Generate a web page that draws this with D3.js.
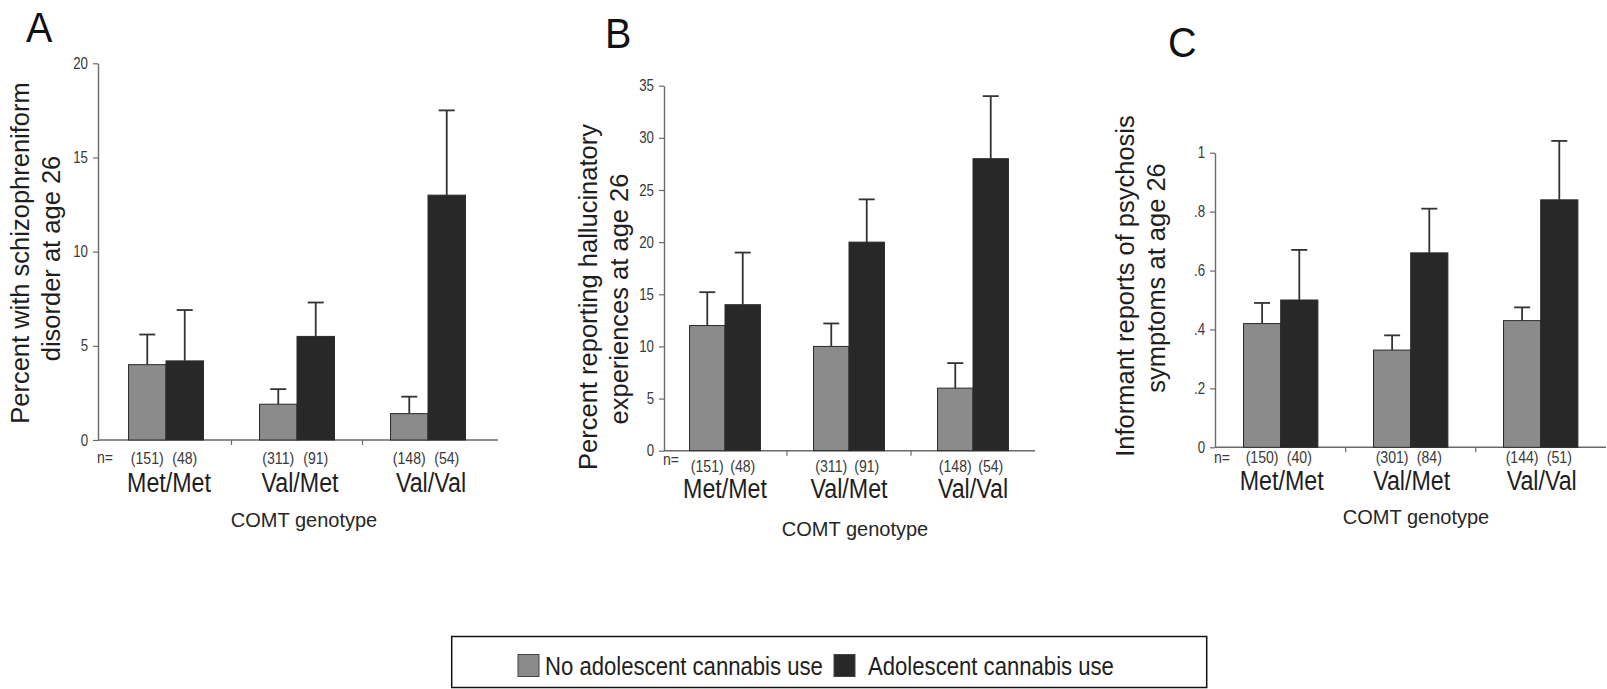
<!DOCTYPE html>
<html>
<head>
<meta charset="utf-8">
<script src="https://cdn.jsdelivr.net/npm/d3@7"></script>
<style>
  html, body { margin: 0; padding: 0; background: #fff; }
  svg { display: block; }
  text { font-family: "Liberation Sans", Arial, Helvetica, sans-serif; }
</style>
</head>
<body>
<svg id="chart" width="1607" height="689"></svg>
<script>
// ---- data ----
const genotypes = ["Met/Met", "Val/Met", "Val/Val"];
const groups = ["No adolescent cannabis use", "Adolescent cannabis use"];

// A: schizophreniform disorder (%)
const schizoNo = [4.0, 1.9, 1.4];
const schizoNoUpper = [5.6, 2.7, 2.3];
const schizoYes = [4.2, 5.5, 13.0];
const schizoYesUpper = [6.9, 7.3, 17.5];
const schizoTicks = [0, 5, 10, 15, 20];
const schizoTickLabels = ["0", "5", "10", "15", "20"];

// B: hallucinatory experiences (%)
const hallucNo = [12, 10, 6];
const hallucNoUpper = [15.2, 12.2, 8.4];
const hallucYes = [14, 20, 28];
const hallucYesUpper = [19.0, 24.1, 34.0];
const hallucTicks = [0, 5, 10, 15, 20, 25, 30, 35];
const hallucTickLabels = ["0", "5", "10", "15", "20", "25", "30", "35"];

// C: informant reports of psychosis symptoms
const informNo = [0.42, 0.33, 0.43];
const informNoUpper = [0.49, 0.38, 0.475];
const informYes = [0.50, 0.66, 0.84];
const informYesUpper = [0.67, 0.81, 1.04];
const informTicks = [0, 0.2, 0.4, 0.6, 0.8, 1];
const informTickLabels = ["0", ".2", ".4", ".6", ".8", "1"];

// sample sizes
const nSelfNo = [151, 311, 148];
const nSelfYes = [48, 91, 54];
const nInformNo = [150, 301, 144];
const nInformYes = [40, 84, 51];

const colors = ["#8b8b8b", "#282828"];

// ---- panel definitions ----
const panels = [
  {
    letter: "A",
    title: ["Percent with schizophreniform", "disorder at age 26"],
    values: [schizoNo, schizoYes], upper: [schizoNoUpper, schizoYesUpper],
    n: [nSelfNo, nSelfYes], max: 20, ticks: schizoTicks, tickLabels: schizoTickLabels,
    L: { axisX: 98, x0: 100.5, x1: 493.5, yBase: 440, yTop: 63.3, axisEnd: 498,
         letterX: 26, letterY: 42, titleX: 28.5, titleY: [253, 258.5],
         nEqY: 23, nY: 23.5, genoY: 51.7, genoDx: 3, comtX: 304, comtY: 86.5 }
  },
  {
    letter: "B",
    title: ["Percent reporting hallucinatory", "experiences at age 26"],
    values: [hallucNo, hallucYes], upper: [hallucNoUpper, hallucYesUpper],
    n: [nSelfNo, nSelfYes], max: 35, ticks: hallucTicks, tickLabels: hallucTickLabels,
    L: { axisX: 664, x0: 663, x1: 1035, yBase: 450.7, yTop: 85.7, axisEnd: 1035,
         letterX: 605, letterY: 48, titleX: 596.5, titleY: [297, 299],
         nEqY: 14, nY: 21, genoY: 47.6, genoDx: 0, comtX: 855, comtY: 85.3 }
  },
  {
    letter: "C",
    title: ["Informant reports of psychosis", "symptoms at age 26"],
    values: [informNo, informYes], upper: [informNoUpper, informYesUpper],
    n: [nInformNo, nInformYes], max: 1, ticks: informTicks, tickLabels: informTickLabels,
    L: { axisX: 1215, x0: 1215.7, x1: 1605.7, yBase: 447.3, yTop: 152.7, axisEnd: 1606,
         letterX: 1168, letterY: 57, titleX: 1133.5, titleY: [286, 278],
         nEqY: 15.3, nY: 15.3, genoY: 42.7, genoDx: 1, comtX: 1416, comtY: 76.7 }
  }
];

const svg = d3.select("#chart");

// text drawn with a horizontal squeeze (condensed look)
function label(g, x, y, str, o) {
  return g.append("text")
    .attr("transform", `translate(${x},${y}) scale(${o.sx || 1},1)`)
    .attr("text-anchor", o.anchor || "middle")
    .style("font-size", o.size + "px")
    .style("fill", o.fill || "#1e1e1e")
    .text(str);
}

panels.forEach(p => {
  const L = p.L;
  const g = svg.append("g");

  const y = d3.scaleLinear().domain([0, p.max]).range([L.yBase, L.yTop]);
  const x0 = d3.scaleBand().domain(genotypes).range([L.x0, L.x1]);
  const bw = x0.bandwidth();
  const pair = bw * 0.572;
  const x1 = d3.scaleBand().domain([0, 1]).range([(bw - pair) / 2, (bw + pair) / 2]);

  // panel letter
  label(g, L.letterX, L.letterY, p.letter, { size: 43, anchor: "start", sx: 0.92, fill: "#111" });

  // y axis title (two rotated lines)
  p.title.forEach((t, i) => {
    g.append("text")
      .attr("transform", `translate(${L.titleX + i * 31},${L.titleY[i]}) rotate(-90)`)
      .attr("text-anchor", "middle")
      .style("font-size", "25.5px")
      .style("fill", "#1e1e1e")
      .text(t);
  });

  // y axis
  const yAxis = g.append("g")
    .attr("transform", `translate(${L.axisX},0)`)
    .call(d3.axisLeft(y).tickValues(p.ticks)
      .tickFormat((d, i) => p.tickLabels[i])
      .tickSize(5).tickPadding(5).tickSizeOuter(0));
  yAxis.select(".domain").attr("stroke", "#6a6a6a").attr("stroke-width", 1.4);
  yAxis.selectAll(".tick line").attr("stroke", "#6a6a6a").attr("stroke-width", 1.2);
  const tsx = 0.83;
  yAxis.selectAll(".tick text")
    .attr("x", -10 / tsx)
    .attr("transform", `scale(${tsx},1)`)
    .style("font-size", "16px")
    .style("fill", "#3a3a3a");

  // x axis baseline and group separators
  g.append("line")
    .attr("x1", L.axisX).attr("x2", L.axisEnd)
    .attr("y1", y(0)).attr("y2", y(0))
    .attr("stroke", "#6a6a6a").attr("stroke-width", 1.4);
  g.selectAll(".sep").data(genotypes.slice(1)).join("line")
    .attr("x1", d => x0(d)).attr("x2", d => x0(d))
    .attr("y1", y(0)).attr("y2", y(0) + 5)
    .attr("stroke", "#6a6a6a").attr("stroke-width", 1.2);

  // bars
  const rows = [];
  genotypes.forEach((gt, gi) => {
    [0, 1].forEach(s => rows.push({ gt, s, v: p.values[s][gi], u: p.upper[s][gi], n: p.n[s][gi] }));
  });
  const cx = d => x0(d.gt) + x1(d.s) + x1.bandwidth() / 2;

  g.selectAll(".bar").data(rows).join("rect")
    .attr("x", d => x0(d.gt) + x1(d.s))
    .attr("width", x1.bandwidth())
    .attr("y", d => y(d.v))
    .attr("height", d => y(0) - y(d.v))
    .attr("fill", d => colors[d.s])
    .attr("stroke", "#2a2a2a").attr("stroke-width", 1);

  // upper error whiskers
  g.selectAll(".err").data(rows).join("line")
    .attr("x1", cx).attr("x2", cx)
    .attr("y1", d => y(d.v)).attr("y2", d => y(d.u))
    .attr("stroke", "#333").attr("stroke-width", 1.8);
  g.selectAll(".cap").data(rows).join("line")
    .attr("x1", d => cx(d) - 8).attr("x2", d => cx(d) + 8)
    .attr("y1", d => y(d.u)).attr("y2", d => y(d.u))
    .attr("stroke", "#333").attr("stroke-width", 1.8);

  // sample sizes
  label(g, L.axisX - 1, y(0) + L.nEqY, "n=", { size: 17, anchor: "start", sx: 0.83, fill: "#3a3a3a" });
  rows.forEach(d => label(g, cx(d), y(0) + L.nY, `(${d.n})`, { size: 17, sx: 0.83, fill: "#3a3a3a" }));

  // genotype labels
  genotypes.forEach(gt =>
    label(g, x0(gt) + bw / 2 + L.genoDx, y(0) + L.genoY, gt, { size: 28, sx: 0.83 }));

  // x axis title
  label(g, L.comtX, y(0) + L.comtY, "COMT genotype", { size: 20, fill: "#262626" });
});

// ---- legend ----
const leg = svg.append("g");
leg.append("rect")
  .attr("x", 451.7).attr("y", 636.5).attr("width", 755).attr("height", 51)
  .attr("fill", "#fff").attr("stroke", "#111").attr("stroke-width", 1.5);
const legItems = [
  { sw: 518, tx: 545 },
  { sw: 834, tx: 868 }
];
groups.forEach((name, i) => {
  leg.append("rect")
    .attr("x", legItems[i].sw).attr("y", 654.5).attr("width", 21).attr("height", 22)
    .attr("fill", colors[i]).attr("stroke", "#444").attr("stroke-width", 1);
  label(leg, legItems[i].tx, 675, name, { size: 25.5, anchor: "start", sx: 0.868, fill: "#1e1e1e" });
});
</script>
</body>
</html>
